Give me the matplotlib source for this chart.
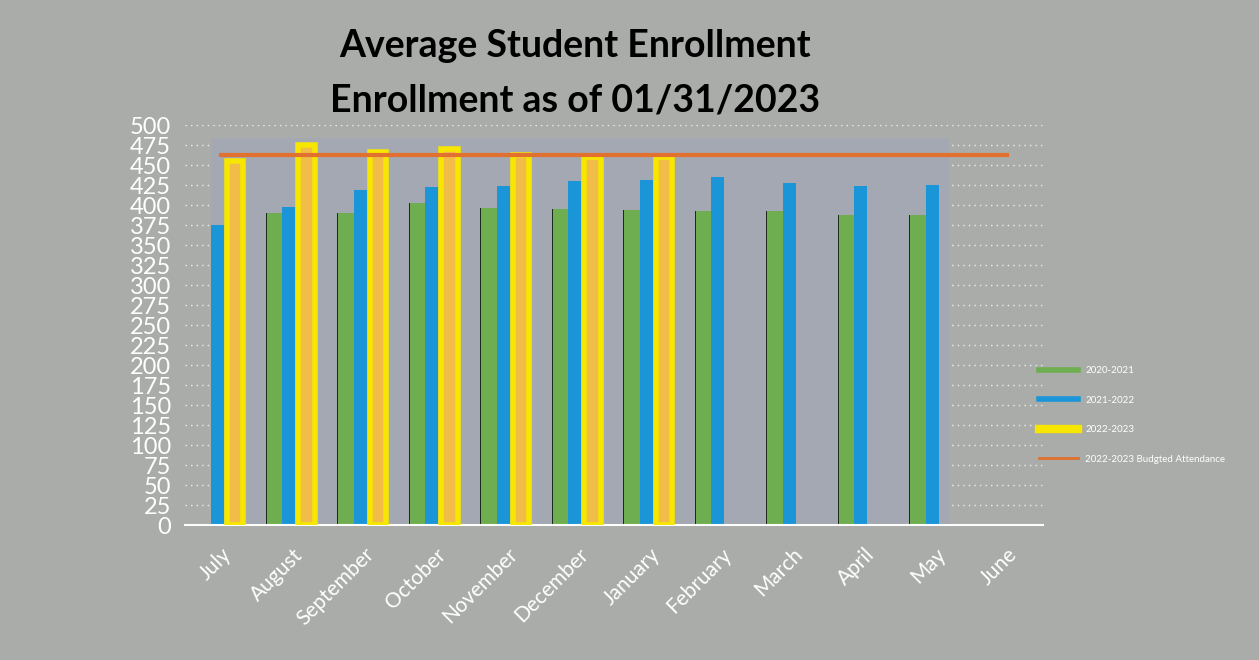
import matplotlib.pyplot as plt
from matplotlib.lines import Line2D
import numpy as np

plt.rcParams['font.family'] = ['Lato', 'DejaVu Sans']

months = ['July', 'August', 'September', 'October', 'November', 'December',
          'January', 'February', 'March', 'April', 'May', 'June']
# nan = no bar shown
nan = np.nan
y2020 = [nan, 390, 390, 402, 396, 395, 394, 393, 393, 388, 388, nan]
y2021 = [375, 397, 419, 423, 424, 430, 431, 435, 428, 424, 425, nan]
y2022 = [455, 475, 466, 470, 463, 460, 460, nan, nan, nan, nan, nan]
budget = [463] * 12

bg = '#a9aca8'
fig = plt.figure(figsize=(12.59, 6.6), dpi=100, facecolor=bg)
ax = fig.add_axes([0.147, 0.2045, 0.6815, 0.606])
ax.set_facecolor('none')

x = np.arange(len(months))

# grid + inner shaded plot area
for v in range(0, 501, 25):
    ax.axhline(v, color='white', lw=1, ls=(0, (1, 3)), alpha=0.8, zorder=0)
ax.add_patch(plt.Rectangle((0.03, 0), 0.86, 0.968, transform=ax.transAxes,
                           facecolor='#a4a8b2', edgecolor='none', zorder=0.5))

# dark shadows on the left of green and yellow bars
ax.bar(x - 0.265, y2020, width=0.22, color='#1e2a1a', zorder=1.5)
ax.bar(x + 0.17, y2022, width=0.23, color='#1e1e10', zorder=1.5)

ax.bar(x - 0.25, y2020, width=0.22, color='#6fae50', zorder=2)
ax.bar(x - 0.05, y2021, width=0.18, color='#1a96d8', zorder=2)
ax.bar(x + 0.2, y2022, width=0.23, color='#f2bc48', edgecolor='#f7e600',
       linewidth=4, zorder=3)
ax.plot(x, budget, color='#e2702e', lw=3, zorder=4)

ax.set_xlim(-0.5, 11.5)
ax.set_ylim(0, 500)
ax.set_yticks(range(0, 501, 25))
ax.tick_params(axis='y', length=0, labelsize=17, labelcolor='white', pad=10)
ax.set_xticks(x)
ax.set_xticklabels(months, rotation=45, ha='right', rotation_mode='anchor',
                   color='white', fontsize=15)
ax.tick_params(axis='x', length=0, pad=14)
for s in ['top', 'right', 'left']:
    ax.spines[s].set_visible(False)
ax.spines['bottom'].set_color('white')
ax.spines['bottom'].set_linewidth(1.5)

fig.text(0.457, 0.93, 'Average Student Enrollment', ha='center', va='center',
         fontsize=27, fontweight='bold')
fig.text(0.457, 0.847, 'Enrollment as of 01/31/2023', ha='center', va='center',
         fontsize=27, fontweight='bold')

handles = [Line2D([], [], color='#6fae50', lw=4),
           Line2D([], [], color='#1a96d8', lw=4),
           Line2D([], [], color='#f7e600', lw=6),
           Line2D([], [], color='#e2702e', lw=2)]
labels = ['2020-2021', '2021-2022', '2022-2023', '2022-2023 Budgted Attendance']
fig.legend(handles, labels, loc='upper left', bbox_to_anchor=(0.818, 0.458),
           frameon=False, fontsize=7, labelcolor='white', handlelength=4,
           labelspacing=2.1)

plt.savefig('out.png', dpi=100, facecolor=bg)
